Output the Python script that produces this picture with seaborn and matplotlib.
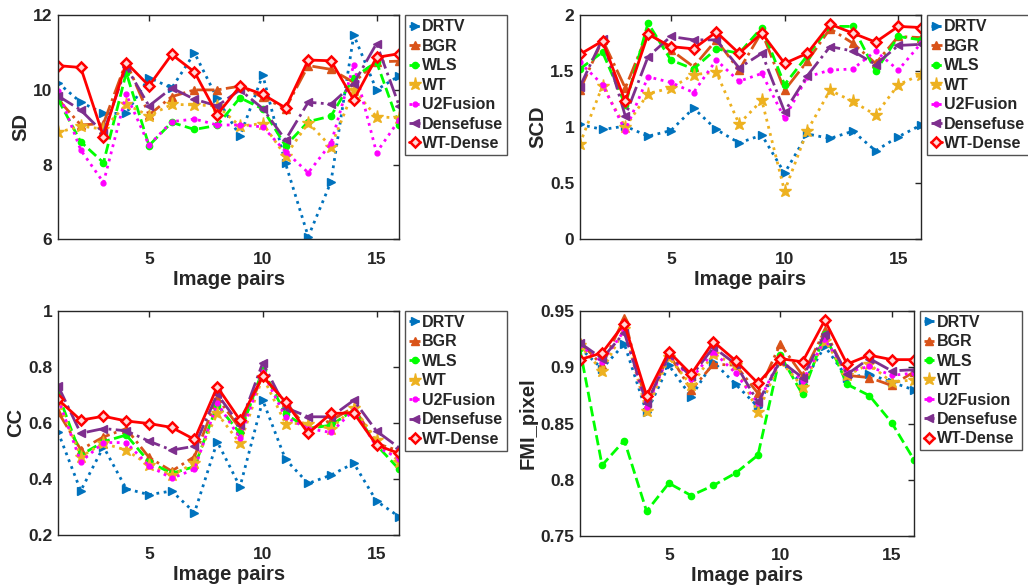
import numpy as np
import pandas as pd
import matplotlib
matplotlib.use("Agg")
import matplotlib.pyplot as plt
import seaborn as sns

sns.set_style("white")
plt.rcParams['font.family'] = ['Liberation Sans', 'DejaVu Sans']
plt.rcParams['font.weight'] = 'bold'
plt.rcParams['axes.labelweight'] = 'bold'

pairs = list(range(1, 17))
methods = ["DRTV", "BGR", "WLS", "WT", "U2Fusion", "Densefuse", "WT-Dense"]

sd_drtv = [10.19, 9.67, 9.37, 9.37, 10.33, 10.05, 10.99, 9.77, 8.76, 10.4, 8.03, 6.07, 7.54, 11.47, 10.0, 10.38]
sd_bgr = [9.75, 9.06, 9.1, 10.75, 9.33, 9.82, 10.0, 10.0, 10.1, 9.8, 9.5, 10.65, 10.55, 10.2, 10.75, 10.77]
sd_wls = [9.75, 8.61, 8.05, 10.46, 8.51, 9.13, 8.94, 9.05, 9.79, 9.49, 8.5, 9.15, 9.3, 10.33, 10.75, 9.05]
sd_wt = [8.86, 9.03, 8.95, 9.61, 9.31, 9.61, 9.6, 9.57, 9.03, 9.1, 8.23, 9.12, 8.48, 10.0, 9.28, 9.25]
sd_u2f = [9.98, 8.39, 7.52, 9.88, 8.52, 9.15, 9.22, 9.06, 9.06, 9.01, 8.35, 7.78, 8.57, 10.67, 8.32, 9.2]
sd_dense = [9.84, 9.46, 8.85, 10.62, 9.57, 10.05, 9.75, 9.57, 10.0, 9.5, 8.66, 9.67, 9.62, 10.17, 11.24, 9.57]
sd_wtd = [10.65, 10.6, 8.75, 10.73, 10.11, 10.95, 10.48, 9.34, 10.1, 9.88, 9.52, 10.8, 10.78, 9.73, 10.87, 10.97]

scd_drtv = [1.025, 0.98, 1.01, 0.92, 0.97, 1.17, 0.98, 0.86, 0.93, 0.59, 0.94, 0.9, 0.965, 0.79, 0.915, 1.02]
scd_bgr = [1.33, 1.78, 1.35, 1.85, 1.69, 1.54, 1.78, 1.51, 1.85, 1.33, 1.59, 1.88, 1.75, 1.57, 1.81, 1.8]
scd_wls = [1.52, 1.67, 1.2, 1.93, 1.6, 1.52, 1.7, 1.66, 1.89, 1.38, 1.64, 1.9, 1.9, 1.5, 1.81, 1.78]
scd_wt = [0.85, 1.37, 1.0, 1.3, 1.35, 1.47, 1.49, 1.03, 1.24, 0.43, 0.97, 1.33, 1.23, 1.11, 1.38, 1.47]
scd_u2f = [1.58, 1.38, 0.97, 1.45, 1.4, 1.31, 1.6, 1.41, 1.48, 1.08, 1.45, 1.51, 1.52, 1.68, 1.51, 1.75]
scd_dense = [1.36, 1.79, 1.1, 1.63, 1.81, 1.78, 1.78, 1.53, 1.66, 1.14, 1.46, 1.72, 1.68, 1.56, 1.73, 1.74]
scd_wtd = [1.65, 1.77, 1.23, 1.83, 1.72, 1.70, 1.85, 1.66, 1.84, 1.57, 1.66, 1.92, 1.84, 1.76, 1.9, 1.89]

cc_drtv = [0.568, 0.358, 0.515, 0.365, 0.344, 0.357, 0.28, 0.533, 0.372, 0.681, 0.47, 0.384, 0.414, 0.456, 0.321, 0.265]
cc_bgr = [0.64, 0.505, 0.55, 0.58, 0.477, 0.428, 0.48, 0.69, 0.58, 0.77, 0.675, 0.575, 0.61, 0.655, 0.527, 0.5]
cc_wls = [0.705, 0.485, 0.533, 0.557, 0.461, 0.42, 0.444, 0.664, 0.563, 0.79, 0.632, 0.58, 0.592, 0.646, 0.521, 0.434]
cc_wt = [0.68, 0.48, 0.527, 0.503, 0.45, 0.414, 0.456, 0.634, 0.527, 0.765, 0.598, 0.598, 0.58, 0.655, 0.539, 0.461]
cc_u2f = [0.687, 0.461, 0.53, 0.53, 0.447, 0.402, 0.435, 0.672, 0.545, 0.782, 0.62, 0.58, 0.566, 0.646, 0.515, 0.473]
cc_dense = [0.733, 0.563, 0.58, 0.572, 0.535, 0.503, 0.517, 0.703, 0.592, 0.815, 0.655, 0.622, 0.622, 0.681, 0.571, 0.511]
cc_wtd = [0.684, 0.61, 0.624, 0.607, 0.598, 0.584, 0.541, 0.729, 0.61, 0.767, 0.675, 0.563, 0.634, 0.636, 0.521, 0.491]

fmi_drtv = [0.9175, 0.899, 0.921, 0.860, 0.902, 0.874, 0.905, 0.885, 0.865, 0.906, 0.885, 0.919, 0.891, 0.894, 0.887, 0.88]
fmi_bgr = [0.923, 0.902, 0.944, 0.866, 0.912, 0.88, 0.903, 0.902, 0.877, 0.921, 0.893, 0.933, 0.893, 0.891, 0.884, 0.896]
fmi_wls = [0.917, 0.813, 0.835, 0.772, 0.797, 0.786, 0.795, 0.806, 0.822, 0.911, 0.876, 0.93, 0.885, 0.875, 0.851, 0.818]
fmi_wt = [0.920, 0.897, 0.934, 0.861, 0.909, 0.884, 0.912, 0.902, 0.86, 0.906, 0.883, 0.924, 0.893, 0.903, 0.887, 0.889]
fmi_u2f = [0.92, 0.905, 0.933, 0.865, 0.911, 0.89, 0.914, 0.895, 0.868, 0.908, 0.888, 0.925, 0.896, 0.901, 0.893, 0.895]
fmi_dense = [0.922, 0.908, 0.931, 0.868, 0.911, 0.892, 0.918, 0.903, 0.869, 0.906, 0.891, 0.93, 0.894, 0.908, 0.897, 0.898]
fmi_wtd = [0.907, 0.913, 0.939, 0.875, 0.914, 0.894, 0.923, 0.906, 0.886, 0.908, 0.905, 0.942, 0.903, 0.911, 0.907, 0.907]

panels = [
    ("SD", [sd_drtv, sd_bgr, sd_wls, sd_wt, sd_u2f, sd_dense, sd_wtd], (6, 12), [6, 8, 10, 12], ["6", "8", "10", "12"]),
    ("SCD", [scd_drtv, scd_bgr, scd_wls, scd_wt, scd_u2f, scd_dense, scd_wtd], (0, 2), [0, 0.5, 1, 1.5, 2], ["0", "0.5", "1", "1.5", "2"]),
    ("CC", [cc_drtv, cc_bgr, cc_wls, cc_wt, cc_u2f, cc_dense, cc_wtd], (0.2, 1), [0.2, 0.4, 0.6, 0.8, 1], ["0.2", "0.4", "0.6", "0.8", "1"]),
    ("FMI_pixel", [fmi_drtv, fmi_bgr, fmi_wls, fmi_wt, fmi_u2f, fmi_dense, fmi_wtd], (0.75, 0.95), [0.75, 0.8, 0.85, 0.9, 0.95], ["0.75", "0.8", "0.85", "0.9", "0.95"]),
]

styles = {
    "DRTV": dict(color="#0072BD", linestyle=":", marker=">", markersize=5.5),
    "BGR": dict(color="#D95319", linestyle="-.", marker="^", markersize=5.5),
    "WLS": dict(color="#00FF00", linestyle="--", marker="o", markersize=4.5),
    "WT": dict(color="#EDB120", linestyle=":", marker="*", markersize=9.5),
    "U2Fusion": dict(color="#FF00FF", linestyle=":", marker="o", markersize=3.5),
    "Densefuse": dict(color="#7E2F8E", linestyle="-.", marker="<", markersize=5.5),
    "WT-Dense": dict(color="#FF0000", linestyle="-", marker="D", markersize=4.8, markerfacecolor="#ffd8d8", markeredgewidth=1.8),
}

fig = plt.figure(figsize=(10.28, 5.85), dpi=100)
positions = [
    [0.0564, 0.591, 0.332, 0.383],
    [0.564, 0.591, 0.332, 0.383],
    [0.0564, 0.0855, 0.332, 0.383],
    [0.564, 0.0838, 0.325, 0.384],
]
leg_anchor = [(1.018, 1.0), (1.018, 1.0), (1.018, 1.0), (1.018, 1.003)]

for (ylabel, series, ylim, yticks, yticklabels), pos, anc in zip(panels, positions, leg_anchor):
    ax = fig.add_axes(pos)
    for name, vals in zip(methods, series):
        df = pd.DataFrame({"pair": pairs, "val": vals})
        st = dict(styles[name])
        st.setdefault("markeredgecolor", st["color"])
        st.setdefault("markeredgewidth", 1)
        sns.lineplot(data=df, x="pair", y="val", ax=ax, label=name, linewidth=2, **st)
    ax.set_xlim(1, 16)
    ax.set_ylim(*ylim)
    ax.set_xticks([5, 10, 15])
    ax.set_xticklabels(["5", "10", "15"])
    ax.set_yticks(yticks)
    ax.set_yticklabels(yticklabels)
    ax.set_xlabel("Image pairs", fontsize=14.5, fontweight="bold", labelpad=2)
    ax.set_ylabel(ylabel, fontsize=14.5, fontweight="bold", labelpad=2)
    ax.tick_params(axis="both", direction="in", length=4, width=1, top=True, right=True,
                   labelsize=12.5, colors="#262626")
    ax.tick_params(axis="x", pad=9)
    ax.tick_params(axis="y", pad=4)
    for lab in ax.get_xticklabels() + ax.get_yticklabels():
        lab.set_fontweight("bold")
    for sp in ax.spines.values():
        sp.set_color("#262626")
        sp.set_linewidth(1)
    leg = ax.legend(loc="upper left", bbox_to_anchor=anc, frameon=True, fancybox=False,
                    edgecolor="#262626", prop={"weight": "bold", "size": 11.5},
                    handlelength=0.65, handletextpad=0.15, borderpad=0.25, labelspacing=0.28,
                    borderaxespad=0)
    leg.get_frame().set_linewidth(1)

fig.savefig("out.png", dpi=100)
